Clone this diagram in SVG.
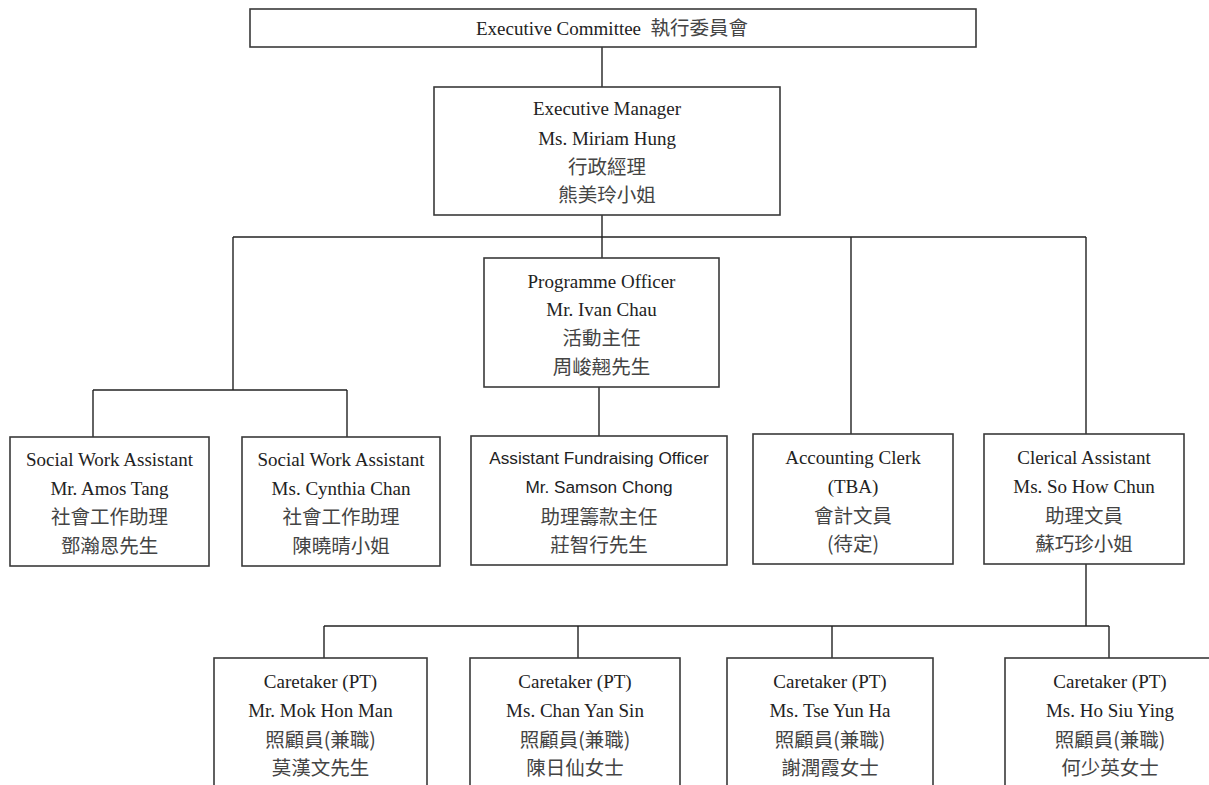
<svg xmlns="http://www.w3.org/2000/svg" width="1209" height="785" viewBox="0 0 1209 785">
<style>
.box{fill:#fff;stroke:#3a3a3a;stroke-width:1.6}
.t{font-family:"Liberation Serif","Noto Sans CJK TC",serif;font-size:19px;fill:#222;text-anchor:middle}
.c{font-family:"Noto Sans CJK TC","Liberation Serif",sans-serif;font-size:19.5px;fill:#444;text-anchor:middle}
.s{font-family:"Liberation Sans","Noto Sans CJK TC",sans-serif;font-size:17.2px;fill:#222;text-anchor:middle}
.ln{fill:none;stroke:#222;stroke-width:1.4}
</style>
<rect width="1209" height="785" fill="#fff"/>
<g id="connectors" class="ln">
<path d="M602 47V87"/>
<path d="M602 215V258"/>
<path d="M233 237H1086"/>
<path d="M851 237V434"/>
<path d="M1086 237V434"/>
<path d="M233 237V390"/>
<path d="M93 390H347"/>
<path d="M93 390V437"/>
<path d="M347 390V437"/>
<path d="M599 387V436"/>
<path d="M1086 564V626"/>
<path d="M324 626H1109"/>
<path d="M324 626V658"/>
<path d="M578 626V658"/>
<path d="M832 626V658"/>
<path d="M1109 626V658"/>
</g>
<g id="exec-committee">
<rect class="box" x="250" y="9" width="726" height="38"/>
<text class="t" x="612" y="35">Executive Committee&#160;&#160;<tspan class="c" style="font-size:19.5px">執行委員會</tspan></text>
</g>
<g id="exec-manager">
<rect class="box" x="434" y="87" width="346" height="128"/>
<text class="t" x="607" y="115">Executive Manager</text>
<text class="t" x="607" y="145">Ms. Miriam Hung</text>
<text class="c" x="607" y="174">行政經理</text>
<text class="c" x="607" y="202">熊美玲小姐</text>
</g>
<g id="programme-officer">
<rect class="box" x="484" y="258" width="235" height="129"/>
<text class="t" x="601.5" y="288">Programme Officer</text>
<text class="t" x="601.5" y="316">Mr. Ivan Chau</text>
<text class="c" x="601.5" y="345">活動主任</text>
<text class="c" x="601.5" y="374">周峻翹先生</text>
</g>
<g id="swa1">
<rect class="box" x="10" y="437" width="199" height="129"/>
<text class="t" x="109.5" y="466">Social Work Assistant</text>
<text class="t" x="109.5" y="495">Mr. Amos Tang</text>
<text class="c" x="109.5" y="524">社會工作助理</text>
<text class="c" x="109.5" y="553">鄧瀚恩先生</text>
</g>
<g id="swa2">
<rect class="box" x="242" y="437" width="198" height="129"/>
<text class="t" x="341" y="466">Social Work Assistant</text>
<text class="t" x="341" y="495">Ms. Cynthia Chan</text>
<text class="c" x="341" y="524">社會工作助理</text>
<text class="c" x="341" y="553">陳曉晴小姐</text>
</g>
<g id="afo">
<rect class="box" x="471" y="436" width="256" height="129"/>
<text class="s" x="599" y="464">Assistant Fundraising Officer</text>
<text class="s" x="599" y="493">Mr. Samson Chong</text>
<text class="c" x="599" y="524">助理籌款主任</text>
<text class="c" x="599" y="552">莊智行先生</text>
</g>
<g id="accounting-clerk">
<rect class="box" x="753" y="434" width="200" height="130"/>
<text class="t" x="853" y="464">Accounting Clerk</text>
<text class="t" x="853" y="493">(TBA)</text>
<text class="c" x="853" y="523">會計文員</text>
<text class="c" x="853" y="551">(待定)</text>
</g>
<g id="clerical-assistant">
<rect class="box" x="984" y="434" width="200" height="130"/>
<text class="t" x="1084" y="464">Clerical Assistant</text>
<text class="t" x="1084" y="493">Ms. So How Chun</text>
<text class="c" x="1084" y="523">助理文員</text>
<text class="c" x="1084" y="551">蘇巧珍小姐</text>
</g>
<g id="caretaker1">
<rect class="box" x="214" y="658" width="213" height="140"/>
<text class="t" x="320.5" y="688">Caretaker (PT)</text>
<text class="t" x="320.5" y="717">Mr. Mok Hon Man</text>
<text class="c" x="320.5" y="747">照顧員(兼職)</text>
<text class="c" x="320.5" y="775">莫漢文先生</text>
</g>
<g id="caretaker2">
<rect class="box" x="470" y="658" width="210" height="140"/>
<text class="t" x="575" y="688">Caretaker (PT)</text>
<text class="t" x="575" y="717">Ms. Chan Yan Sin</text>
<text class="c" x="575" y="747">照顧員(兼職)</text>
<text class="c" x="575" y="775">陳日仙女士</text>
</g>
<g id="caretaker3">
<rect class="box" x="727" y="658" width="206" height="140"/>
<text class="t" x="830" y="688">Caretaker (PT)</text>
<text class="t" x="830" y="717">Ms. Tse Yun Ha</text>
<text class="c" x="830" y="747">照顧員(兼職)</text>
<text class="c" x="830" y="775">謝潤霞女士</text>
</g>
<g id="caretaker4">
<rect class="box" x="1005" y="658" width="210" height="140"/>
<text class="t" x="1110" y="688">Caretaker (PT)</text>
<text class="t" x="1110" y="717">Ms. Ho Siu Ying</text>
<text class="c" x="1110" y="747">照顧員(兼職)</text>
<text class="c" x="1110" y="775">何少英女士</text>
</g>
</svg>
